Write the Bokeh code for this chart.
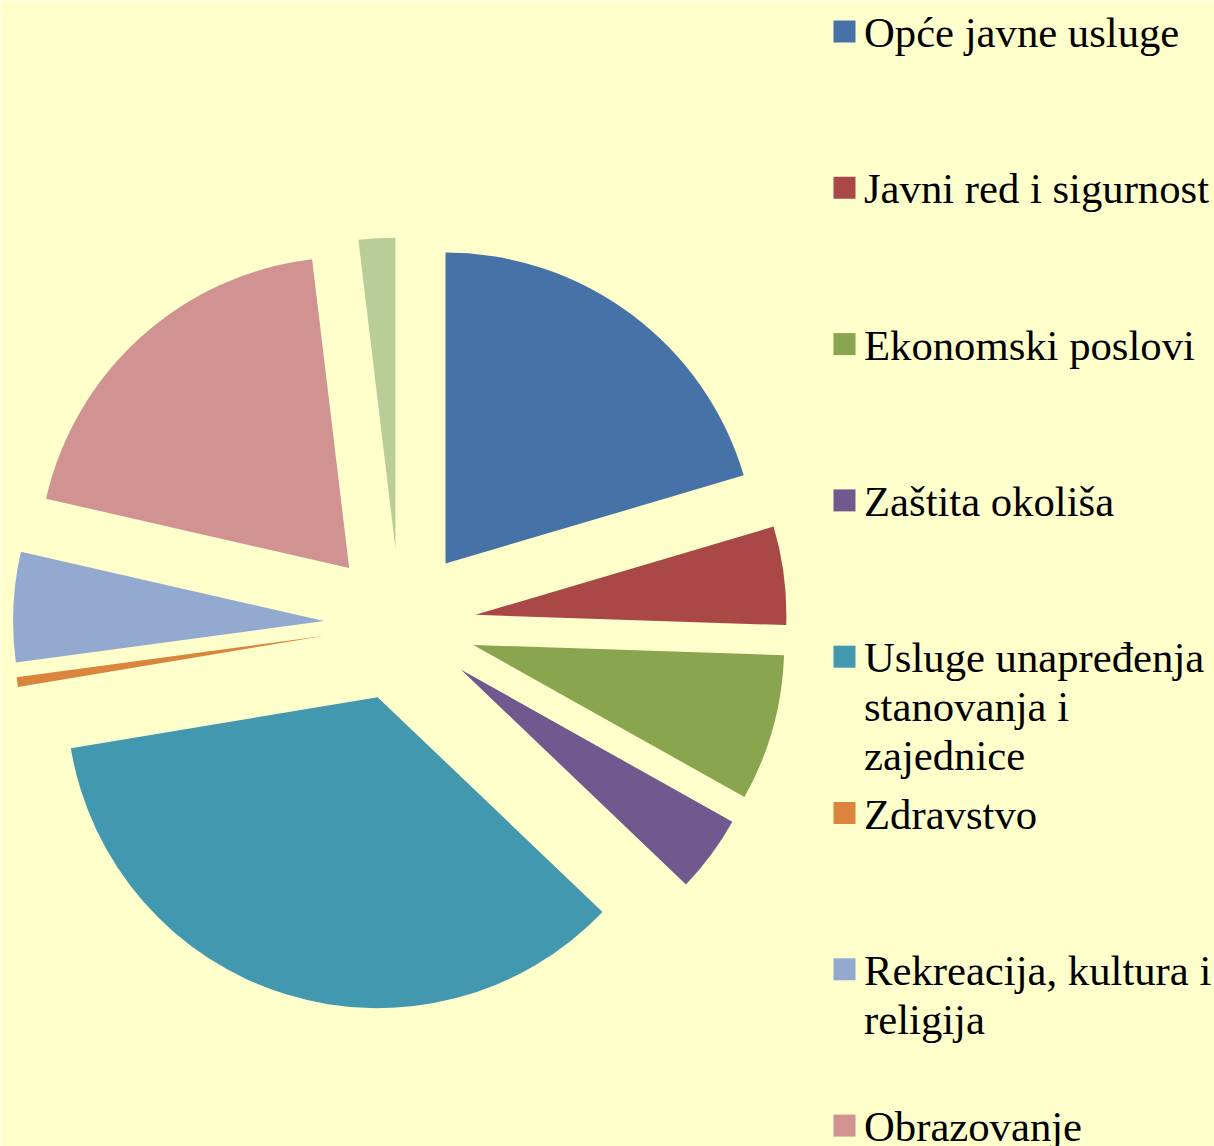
import numpy as np
from bokeh.plotting import figure
from bokeh.models import Range1d, ColumnDataSource
from bokeh.core.properties import value
from bokeh.embed import file_html
from bokeh.resources import INLINE

# ---- data ----
categories = [
    "Opće javne usluge",
    "Javni red i sigurnost",
    "Ekonomski poslovi",
    "Zaštita okoliša",
    "Usluge unapređenja\nstanovanja i\nzajednice",
    "Zdravstvo",
    "Rekreacija, kultura i\nreligija",
    "Obrazovanje",
    "Socijalna zaštita",
]
shares = [20.4, 5.1, 7.6, 4.0, 35.2, 0.5, 5.7, 19.5, 1.9]
colors = ["#4672A8", "#A94846", "#89A54E", "#71588F", "#4198AF",
          "#DB843D", "#93A9CF", "#D19392", "#B9CD96"]

W, H = 1214, 1146
BG = "#FFFFCC"

p = figure(width=W, height=H, output_backend="svg", toolbar_location=None,
           x_range=Range1d(0, W), y_range=Range1d(0, H),
           x_axis_location=None, y_axis_location=None,
           min_border=0, background_fill_color=BG, border_fill_color=BG)
p.outline_line_color = None
p.grid.visible = False

# ---- exploded pie ----
vals = np.array(shares, dtype=float)
frac = vals / vals.sum()
cum = np.concatenate([[0.0], np.cumsum(frac)]) * 2 * np.pi  # clockwise from north
theta0, theta1 = cum[:-1], cum[1:]
mid = (theta0 + theta1) / 2
cx, cy = 399.5, H - 624
R = 311
explode = 76
src = ColumnDataSource(dict(
    x=cx + explode * np.sin(mid),
    y=cy + explode * np.cos(mid),
    start=np.pi / 2 - theta0,
    end=np.pi / 2 - theta1,
    color=colors,
))
p.wedge(x="x", y="y", radius=R, start_angle="start", end_angle="end",
        direction="clock", fill_color="color", line_color=None, source=src)

# ---- legend (drawn manually) ----
leg_x = 844
txt_x = 863.5
top = H - 31
step = 156.3
line_h = 49
base_off = 1
font = value("Liberation Serif")
sq_x, sq_y, sq_c = [], [], []
tx, ty, tt = [], [], []
for i, (lab, col) in enumerate(zip(categories, colors)):
    yy = top - i * step
    if yy < 0:
        continue
    sq_x.append(leg_x); sq_y.append(yy); sq_c.append(col)
    for j, line in enumerate(lab.split("\n")):
        tx.append(txt_x); ty.append(yy - base_off - j * line_h); tt.append(line)
p.rect(x=sq_x, y=sq_y, width=22, height=22, fill_color=sq_c, line_color=None)
p.text(x=tx, y=ty, text=tt, text_font=font, text_font_size="42.7px",
       text_baseline="alphabetic", text_align="left", text_color="#000000")

open("out.html", "w").write(file_html(p, INLINE))
